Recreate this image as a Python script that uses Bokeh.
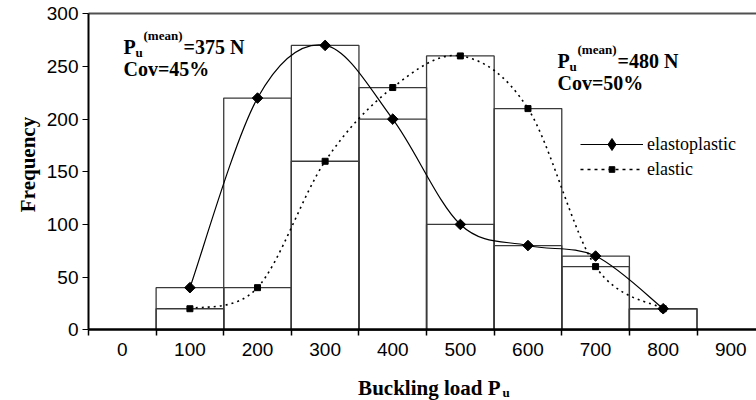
from bokeh.plotting import figure
from bokeh.models import (Label, FixedTicker, Legend, LegendItem, LinearAxis,
                          ColumnDataSource, Range1d)
from bokeh.embed import file_html
from bokeh.resources import INLINE

# ---------------- data ----------------
bins = [100, 200, 300, 400, 500, 600, 700, 800]
elastoplastic = [40, 220, 270, 200, 100, 80, 70, 20]
elastic = [20, 40, 160, 230, 260, 210, 60, 20]
x_ticks = [0, 100, 200, 300, 400, 500, 600, 700, 800, 900]
y_ticks = [0, 50, 100, 150, 200, 250, 300]
bin_width = 100
x_lo, x_hi = -50, 938
y_lo, y_hi = 0, 300

mean_ep, cov_ep = 375, 45
mean_el, cov_el = 480, 50

# ---------------- layout (pixels) ----------------
W, H = 756, 400
FL, FR, FT, FB = 88, 756, 13.3, 329.3     # plot area in the picture
sx_per = (FR - FL) / (x_hi - x_lo)
sy_per = (FB - FT) / (y_hi - y_lo)

p = figure(width=W, height=H, output_backend="svg", toolbar_location=None,
           x_range=Range1d(x_lo - FL / sx_per, x_hi + (W - FR) / sx_per),
           y_range=Range1d(y_lo - (H - FB) / sy_per, y_hi + FT / sy_per),
           min_border=0, min_border_left=0, min_border_right=0,
           min_border_top=0, min_border_bottom=0)
p.outline_line_color = None
p.xgrid.grid_line_color = None
p.ygrid.grid_line_color = None
p.background_fill_color = "white"
p.border_fill_color = "white"

# histogram bars (outline only)
half = bin_width / 2
for vals in (elastoplastic, elastic):
    src = ColumnDataSource(dict(left=[b - half for b in bins],
                                right=[b + half for b in bins],
                                top=vals, bottom=[0] * len(bins)))
    p.quad(left="left", right="right", top="top", bottom="bottom", source=src,
           fill_color=None, line_color="#3a3a3a", line_width=1.3)


def smooth_segments(xs, ys):
    n = len(xs)
    d = dict(x0=[], y0=[], x1=[], y1=[], cx0=[], cy0=[], cx1=[], cy1=[])
    for i in range(n - 1):
        a, b = max(i - 1, 0), min(i + 2, n - 1)
        d["x0"].append(xs[i]); d["y0"].append(ys[i])
        d["x1"].append(xs[i + 1]); d["y1"].append(ys[i + 1])
        d["cx0"].append(xs[i] + (xs[i + 1] - xs[a]) / 6)
        d["cy0"].append(ys[i] + (ys[i + 1] - ys[a]) / 6)
        d["cx1"].append(xs[i + 1] - (xs[b] - xs[i]) / 6)
        d["cy1"].append(ys[i + 1] - (ys[b] - ys[i]) / 6)
    return ColumnDataSource(d)


p.bezier(x0="x0", y0="y0", x1="x1", y1="y1", cx0="cx0", cy0="cy0",
         cx1="cx1", cy1="cy1", source=smooth_segments(bins, elastoplastic),
         line_color="black", line_width=1.2)
p.bezier(x0="x0", y0="y0", x1="x1", y1="y1", cx0="cx0", cy0="cy0",
         cx1="cx1", cy1="cy1", source=smooth_segments(bins, elastic),
         line_color="black", line_width=1.6, line_dash="2 4")

p.scatter(bins, elastoplastic, marker="square", angle=0.785398,
          size=7.5, color="black")
s_el = p.scatter(bins, elastic, marker="square", size=6, color="black")

# legend samples (no visible data of their own)
nan = float("nan")
l_ep = p.line([nan], [nan], line_color="black", line_width=1.2)
m_ep = p.scatter([nan], [nan], marker="diamond", size=12, color="black")
l_el = p.line([nan], [nan], line_color="black", line_width=1.6,
              line_dash="3 4")

legend_style = dict(glyph_width=63, spacing=0, padding=0, margin=0,
                    label_standoff=4, border_line_color=None,
                    background_fill_alpha=0,
                    label_text_font="Liberation Serif",
                    label_text_font_size="18px", label_text_color="black")
# two legends so that each sample marker gets its own size
p.add_layout(Legend(items=[LegendItem(label="elastoplastic",
                                      renderers=[l_ep, m_ep])],
                    location=(580, H - 159.3), glyph_height=30,
                    label_height=30, **legend_style))
p.add_layout(Legend(items=[LegendItem(label="elastic",
                                      renderers=[l_el, s_el])],
                    location=(580, H - 179.7), glyph_height=14,
                    label_height=14, **legend_style))

# axes drawn at fixed data locations inside the canvas
xa = p.xaxis[0]
xa.fixed_location = y_lo
xa.bounds = (x_lo, x_hi)
xa.ticker = FixedTicker(ticks=x_ticks,
                        minor_ticks=[t - half for t in x_ticks])
xa.axis_line_color = "black"
xa.axis_line_width = 2.5
xa.major_tick_line_color = None
xa.major_tick_out = 6
xa.major_tick_in = 0
xa.minor_tick_line_color = "black"
xa.minor_tick_line_width = 1.5
xa.minor_tick_out = 6
xa.minor_tick_in = 0
xa.major_label_standoff = 7
xa.major_label_text_font = "Liberation Sans"
xa.major_label_text_font_size = "19px"
xa.major_label_text_color = "black"

ya = p.yaxis[0]
ya.fixed_location = x_lo
ya.bounds = (y_lo, y_hi)
ya.ticker = FixedTicker(ticks=y_ticks)
ya.axis_line_color = "black"
ya.axis_line_width = 2
ya.major_tick_line_color = "black"
ya.major_tick_line_width = 1.2
ya.major_tick_out = 6
ya.major_tick_in = 0
ya.minor_tick_line_color = None
ya.major_label_standoff = 4
ya.major_label_text_font = "Liberation Sans"
ya.major_label_text_font_size = "19px"
ya.major_label_text_color = "black"

# top border line of the plot area
top = LinearAxis(fixed_location=y_hi, bounds=(x_lo, x_hi),
                 ticker=FixedTicker(ticks=[]), major_label_text_font_size="0px",
                 major_tick_line_color=None, minor_tick_line_color=None,
                 axis_line_color="#505050", axis_line_width=2)
p.add_layout(top, "above")

# ---------------- texts (picture pixels) ----------------


def lab(text, X, Y, size, bold=True, align="left", angle=0.0):
    p.add_layout(Label(text=text, x=X, y=H - Y, x_units="screen",
                       y_units="screen", text_font="Liberation Serif",
                       text_font_style="bold" if bold else "normal",
                       text_font_size=size, text_color="black",
                       text_align=align, text_baseline="alphabetic",
                       angle=angle))


def mean_block(X, Y, mean, cov):
    lab("P", X, Y, "20px")
    lab("u", X + 12, Y + 6, "13px")
    lab("(mean)", X + 20, Y - 11, "13px")
    lab(f"={mean} N", X + 60, Y, "20px")
    lab(f"Cov={cov}%", X, Y + 22, "20px")


mean_block(123, 46, mean_ep, cov_ep)
mean_block(557, 60, mean_el, cov_el)

lab("Buckling load P", 500, 387, "21px", align="right")
lab("u", 502, 392, "13px")
lab("Frequency", 27, 164, "21px", align="center", angle=1.5707963)

open("out.html", "w").write(file_html(p, INLINE))
